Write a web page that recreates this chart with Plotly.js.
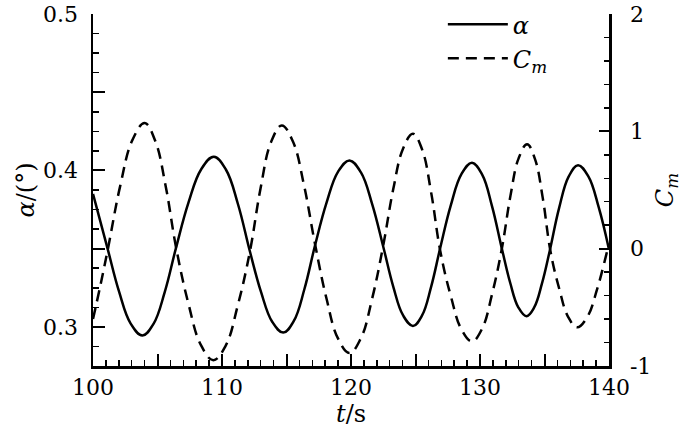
<!DOCTYPE html>
<html>
<head>
<meta charset="utf-8">
<script src="https://cdn.plot.ly/plotly-3.0.1.min.js"></script>
<style>html,body{margin:0;padding:0;background:#fff;}#chart{width:700px;height:432px;}</style>
</head>
<body>
<div id="chart"></div>
<script>
// Time samples (s) and angle of attack alpha (deg)
const tAlpha = [100, 101.1, 102.01, 102.92, 103.83, 104.69, 105.56, 106.42, 107.40, 108.39, 109.37, 110.30, 111.24, 112.17, 113.03, 113.89, 114.75, 115.57, 116.39, 117.21, 118.10, 118.99, 119.88, 120.76, 121.64, 122.52, 123.28, 124.04, 124.8, 125.51, 126.21, 126.92, 127.74, 128.56, 129.38, 130.16, 130.93, 131.71, 132.34, 132.97, 133.6, 134.2, 134.8, 135.4, 136.13, 136.87, 137.6, 138.4, 139.2, 140];
const alphaVals = [0.385, 0.351, 0.3228, 0.3021, 0.2945, 0.3019, 0.3222, 0.350, 0.3794, 0.4008, 0.4087, 0.4006, 0.3784, 0.348, 0.3222, 0.3033, 0.2964, 0.3038, 0.3242, 0.352, 0.3792, 0.3991, 0.4064, 0.3989, 0.3785, 0.3506, 0.3256, 0.3073, 0.3006, 0.3073, 0.3256, 0.3506, 0.3778, 0.3976, 0.4049, 0.3975, 0.3772, 0.3495, 0.3282, 0.3125, 0.3068, 0.3124, 0.3276, 0.3484, 0.3759, 0.396, 0.4034, 0.3962, 0.3765, 0.3495];
// Time samples (s) and pitching moment coefficient Cm
const tCm = [100, 100.58, 101.16, 102.11, 103.06, 104.01, 104.82, 105.63, 106.44, 107.40, 108.36, 109.32, 110.27, 111.22, 112.17, 112.99, 113.81, 114.63, 115.49, 116.35, 117.21, 118.10, 118.99, 119.88, 120.76, 121.64, 122.52, 123.28, 124.04, 124.8, 125.51, 126.21, 126.92, 127.74, 128.56, 129.38, 130.16, 130.93, 131.71, 132.36, 133.0, 133.65, 134.25, 134.86, 135.46, 136.15, 136.84, 137.53, 138.31, 139.08, 139.86, 140];
const cmVals = [-0.6, -0.31, 0, 0.535, 0.927, 1.07, 0.92, 0.535, 0.01, -0.47, -0.82, -0.95, -0.83, -0.485, -0.02, 0.515, 0.91, 1.05, 0.915, 0.545, 0.04, -0.425, -0.765, -0.89, -0.765, -0.425, 0.04, 0.51, 0.854, 0.98, 0.846, 0.48, -0.02, -0.405, -0.687, -0.79, -0.683, -0.39, 0.01, 0.45, 0.772, 0.89, 0.768, 0.435, -0.02, -0.345, -0.583, -0.67, -0.583, -0.345, -0.02, 0.04];
// Tick values and labels
const xTickVals = [100, 105, 110, 115, 120, 125, 130, 135, 140];
const xTickText = ['100', '', '110', '', '120', '', '130', '', '140'];
const yTickVals = [0.3, 0.35, 0.4, 0.45, 0.5];
const yTickText = ['0.3', '', '0.4', '', '0.5'];
const y2TickVals = [-1, 0, 1, 2];
const y2TickText = ['-1', '0', '1', '2'];
const seriesNames = ['<i>α</i>', '<i>C</i><sub><i>m</i></sub>'];

const FONT = 'DejaVu Serif';

const traces = [
  {x: tAlpha, y: alphaVals, name: seriesNames[0], type: 'scatter', mode: 'lines',
   line: {color: '#000', width: 2.5, shape: 'spline', smoothing: 1.15}, yaxis: 'y'},
  {x: tCm, y: cmVals, name: seriesNames[1], type: 'scatter', mode: 'lines',
   line: {color: '#000', width: 2.5, dash: '11px,7px', shape: 'spline', smoothing: 1.15}, yaxis: 'y2'}
];

const layout = {
  width: 700, height: 432,
  margin: {l: 93, r: 91, t: 14, b: 66, pad: 0, autoexpand: false},
  paper_bgcolor: '#fff', plot_bgcolor: '#fff',
  font: {family: FONT, size: 22, color: '#000'},
  showlegend: true,
  legend: {x: 0.678, y: 1.034, xanchor: 'left', yanchor: 'top', bgcolor: 'rgba(0,0,0,0)',
           font: {family: FONT, size: 24, color: '#000'}, tracegroupgap: 0, itemwidth: 60},
  xaxis: {
    range: [100, 140], showgrid: false, zeroline: false,
    showline: true, linecolor: '#000', linewidth: 2.5,
    ticks: 'inside', ticklen: 12, tickwidth: 2, tickcolor: '#000',
    tickmode: 'array', tickvals: xTickVals, ticktext: xTickText,
    minor: {ticks: 'inside', tickmode: 'linear', tick0: 100, dtick: 1, ticklen: 6, tickwidth: 1.5, tickcolor: '#000', showgrid: false},
    tickfont: {family: FONT, size: 22, color: '#000'},
    ticklabeloverflow: 'allow',
    title: {text: '<i>t</i>/s', font: {family: FONT, size: 24, color: '#000'}, standoff: 0}
  },
  yaxis: {
    range: [0.275, 0.5], showgrid: false, zeroline: false,
    showline: true, linecolor: '#000', linewidth: 2.5,
    ticks: 'inside', ticklen: 12, tickwidth: 2, tickcolor: '#000',
    tickmode: 'array', tickvals: yTickVals, ticktext: yTickText,
    minor: {ticks: 'inside', tickmode: 'linear', tick0: 0.275, dtick: 0.0125, ticklen: 6, tickwidth: 1.5, tickcolor: '#000', showgrid: false},
    tickfont: {family: FONT, size: 22, color: '#000'},
    ticklabeloverflow: 'allow',
    ticklabelstandoff: 8,
    title: {text: '<i>α</i>/(°)', font: {family: FONT, size: 24, color: '#000'}, standoff: 2}
  },
  yaxis2: {
    range: [-1, 2], overlaying: 'y', side: 'right', showgrid: false, zeroline: false,
    showline: true, linecolor: '#000', linewidth: 2.5,
    ticks: 'inside', ticklen: 10, tickwidth: 2, tickcolor: '#000',
    tickmode: 'array', tickvals: y2TickVals, ticktext: y2TickText,
    minor: {ticks: 'inside', tickmode: 'linear', tick0: -1, dtick: 0.2, ticklen: 5, tickwidth: 1.5, tickcolor: '#000', showgrid: false},
    tickfont: {family: FONT, size: 22, color: '#000'},
    ticklabeloverflow: 'allow',
    ticklabelstandoff: 14,
    title: {text: '<i>C</i><sub><i>m</i></sub>', font: {family: FONT, size: 24, color: '#000'}, standoff: 6}
  }
};

Plotly.newPlot('chart', traces, layout, {staticPlot: true, displayModeBar: false});
</script>
</body>
</html>
